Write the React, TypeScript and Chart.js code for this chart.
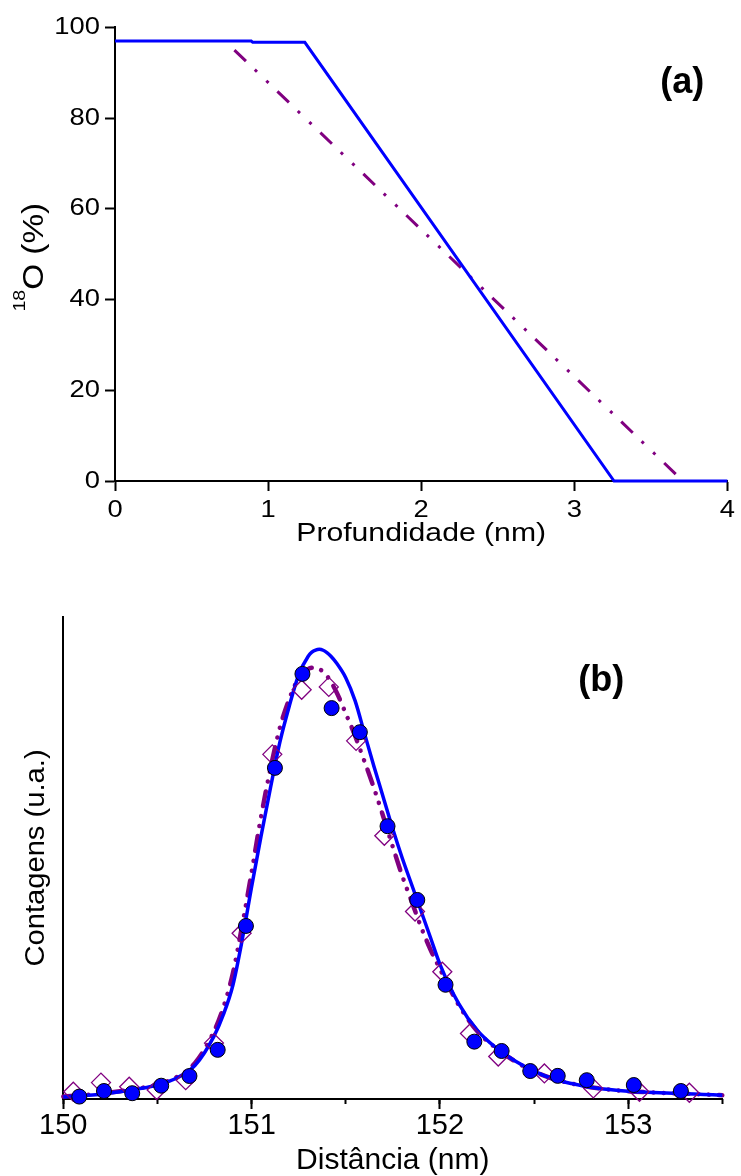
import React, { useEffect, useRef } from 'react';
import { Chart, registerables } from 'chart.js';

Chart.register(...registerables);

// ---------------- Panel (a): 18O depth profile ----------------
const depthTicks = [0, 1, 2, 3, 4];
const percentTicks = [0, 20, 40, 60, 80, 100];
const profileBlueX = [0, 0.89, 0.9, 1.24, 3.26, 4];
const profileBlueY = [97, 97, 96.7, 96.7, 0, 0];
const profilePurpleX = [0.78, 3.71];
const profilePurpleY = [95, 0];

// ---------------- Panel (b): counts vs distance ----------------
const distanceTicks = [150, 151, 152, 153];
const distanceMinorTicks = [150, 150.5, 151, 151.5, 152, 152.5, 153, 153.5];

const fitBlueX = [150.0, 150.1, 150.2, 150.3, 150.4, 150.5, 150.6, 150.7, 150.8, 150.85, 150.9, 150.95, 151.0, 151.05, 151.1, 151.15, 151.2, 151.25, 151.3, 151.32, 151.34, 151.36, 151.38, 151.4, 151.42, 151.45, 151.5, 151.55, 151.6, 151.65, 151.7, 151.75, 151.8, 151.85, 151.9, 151.95, 152.0, 152.1, 152.2, 152.3, 152.4, 152.5, 152.6, 152.7, 152.8, 152.9, 153.0, 153.1, 153.2, 153.3, 153.4, 153.5];
const fitBlueY = [0.4, 0.7, 1.0, 1.5, 2.1, 2.9, 4.3, 7.0, 13.0, 17.5, 23.5, 33, 44, 54.5, 64.5, 74, 81.5, 88, 91.8, 92.7, 93.15, 93.3, 93.1, 92.6, 91.9, 90.5, 87.4, 82.6, 75.8, 69, 62.5, 56, 50, 44.5, 39, 33.5, 28, 19.8, 14.2, 10.6, 7.9, 5.8, 4.2, 3.2, 2.45, 1.95, 1.6, 1.4, 1.25, 1.1, 0.95, 0.8];

const fitPurpleX = [150.0, 150.1, 150.2, 150.3, 150.4, 150.5, 150.6, 150.7, 150.8, 150.85, 150.9, 150.95, 151.0, 151.05, 151.1, 151.15, 151.2, 151.25, 151.3, 151.33, 151.36, 151.4, 151.45, 151.5, 151.55, 151.6, 151.65, 151.7, 151.75, 151.8, 151.85, 151.9, 151.95, 152.0, 152.1, 152.2, 152.3, 152.4, 152.5, 152.6, 152.7, 152.8, 152.9, 153.0, 153.1, 153.2, 153.3, 153.4, 153.5];
const fitPurpleY = [0.5, 0.8, 1.1, 1.6, 2.2, 3.0, 4.5, 7.5, 14, 19, 26, 36, 47, 58.5, 68.5, 77, 83, 87.3, 89.2, 89.5, 89.2, 87.8, 84.5, 80, 75.3, 70, 64.5, 58.5, 52.3, 46.3, 41, 35.7, 31, 27, 19.5, 14, 10.5, 7.8, 5.7, 4.2, 3.2, 2.45, 1.95, 1.6, 1.4, 1.25, 1.1, 0.95, 0.8];

const circlesX = [150.085, 150.216, 150.366, 150.52, 150.67, 150.82, 150.97, 151.124, 151.27, 151.425, 151.575, 151.722, 151.88, 152.03, 152.183, 152.328, 152.48, 152.626, 152.78, 153.03, 153.28];
const circlesY = [0.5, 1.66, 1.2, 2.76, 4.77, 10.2, 35.9, 68.7, 88.2, 81.1, 76.1, 56.6, 41.3, 23.7, 11.9, 9.96, 5.8, 4.8, 3.9, 2.9, 1.66];

const diamondsX = [150.053, 150.2, 150.35, 150.496, 150.65, 150.8, 150.947, 151.11, 151.266, 151.41, 151.555, 151.705, 151.868, 152.013, 152.16, 152.31, 152.555, 152.815, 153.06, 153.325];
const diamondsY = [1.5, 3.4, 2.55, 1.87, 3.9, 11.6, 34.4, 71.5, 84.9, 85.5, 74.3, 54.6, 38.9, 26.4, 13.6, 8.8, 5.3, 2.2, 1.5, 1.3];

const FONT = "'Liberation Sans', Arial, Helvetica, sans-serif";
const BLUE = '#0000FF';
const PURPLE = '#800080';

const pts = (xs: number[], ys: number[]) => xs.map((x, i) => ({ x, y: ys[i] }));

// Horizontally widen glyphs (the reference's lettering is wider than Arial)
function stretchPlugin(factorFor: (size: number) => number, after?: (chart: any) => void) {
  return {
    id: 'stretchText',
    beforeDraw(chart: any) {
      const ctx = chart.ctx as any;
      if (ctx.__origFill) return;
      const orig = CanvasRenderingContext2D.prototype.fillText;
      ctx.__origFill = orig;
      ctx.fillText = function (text: string, x: number, y: number, maxWidth?: number) {
        const m = /(\d+(?:\.\d+)?)px/.exec(this.font);
        const sx = m ? factorFor(parseFloat(m[1])) : 1;
        this.save();
        this.translate(x, y);
        this.scale(sx, 1);
        if (maxWidth === undefined) orig.call(this, text, 0, 0);
        else orig.call(this, text, 0, 0, maxWidth);
        this.restore();
      };
    },
    afterDraw(chart: any) {
      const ctx = chart.ctx as any;
      if (ctx.__origFill) {
        delete ctx.fillText;
        delete ctx.__origFill;
      }
      if (after) after(chart);
    },
  };
}

function drawPanelLabel(chart: any, text: string, dx: number, dy: number) {
  const ctx = chart.ctx;
  const { right, top } = chart.chartArea;
  ctx.save();
  ctx.font = `bold 36px ${FONT}`;
  ctx.fillStyle = '#000';
  ctx.textAlign = 'center';
  ctx.textBaseline = 'middle';
  ctx.fillText(text, right - dx, top + dy);
  ctx.restore();
}

function drawOxygenTitle(chart: any) {
  const ctx = chart.ctx;
  const { top, bottom } = chart.chartArea;
  const sx = 1.15;
  const small = `17px ${FONT}`;
  const big = `29px ${FONT}`;
  ctx.save();
  ctx.font = small;
  const w1 = ctx.measureText('18').width;
  ctx.font = big;
  const w2 = ctx.measureText('O (%)').width;
  const total = (w1 + w2) * sx;
  const cy = (top + bottom) / 2 + 3;
  ctx.translate(43, cy + total / 2);
  ctx.rotate(-Math.PI / 2);
  ctx.scale(sx, 1);
  ctx.fillStyle = '#000';
  ctx.textAlign = 'left';
  ctx.textBaseline = 'alphabetic';
  ctx.font = small;
  ctx.fillText('18', 0, -18);
  ctx.font = big;
  ctx.fillText('O (%)', w1, 0);
  ctx.restore();
}

const axisGrid = (tickLength: number) => ({
  drawOnChartArea: false,
  drawTicks: true,
  tickLength,
  tickWidth: 2,
  tickColor: '#000',
});
const axisBorder = { display: true, color: '#000', width: 2 };

export default function App() {
  const topRef = useRef<HTMLCanvasElement>(null);
  const botRef = useRef<HTMLCanvasElement>(null);

  useEffect(() => {
    const topChart = new Chart(topRef.current as HTMLCanvasElement, {
      type: 'scatter',
      data: {
        datasets: [
          {
            data: pts(profileBlueX, profileBlueY),
            showLine: true,
            borderColor: BLUE,
            borderWidth: 3,
            pointRadius: 0,
            tension: 0,
            clip: false as any,
          },
          {
            data: pts(profilePurpleX, profilePurpleY),
            showLine: true,
            borderColor: PURPLE,
            borderWidth: 3,
            borderDash: [16, 12.3, 3, 13, 3, 12.3],
            pointRadius: 0,
            tension: 0,
            clip: false as any,
          },
        ],
      },
      options: {
        responsive: false,
        animation: false,
        devicePixelRatio: 1,
        layout: { padding: { left: 0, top: 27.4, right: 8, bottom: 0 } },
        plugins: { legend: { display: false }, tooltip: { enabled: false } },
        scales: {
          x: {
            type: 'linear',
            min: 0,
            max: 4,
            afterBuildTicks: (s: any) => { s.ticks = depthTicks.map((value) => ({ value })); },
            afterFit: (s: any) => { s.height = 79; },
            grid: axisGrid(10),
            border: axisBorder,
            ticks: { color: '#000', font: { family: FONT, size: 24, lineHeight: 1 }, padding: 7, maxRotation: 0, autoSkip: false },
            title: { display: true, text: 'Profundidade (nm)', color: '#000', font: { family: FONT, size: 26, lineHeight: 1 }, padding: { top: 0, bottom: 13 } },
          },
          y: {
            type: 'linear',
            min: 0,
            max: 100,
            afterBuildTicks: (s: any) => { s.ticks = percentTicks.map((value) => ({ value })); },
            afterFit: (s: any) => { s.width = 115; },
            grid: axisGrid(10),
            border: axisBorder,
            ticks: { color: '#000', font: { family: FONT, size: 24, lineHeight: 1 }, padding: 5, autoSkip: false },
            title: { display: false },
          },
        },
      } as any,
      plugins: [
        stretchPlugin((size) => (size <= 24 ? 1.14 : 1.16), (chart) => {
          drawPanelLabel(chart, '(a)', 45, 56);
          drawOxygenTitle(chart);
        }),
      ],
    });

    const botChart = new Chart(botRef.current as HTMLCanvasElement, {
      type: 'scatter',
      data: {
        datasets: [
          {
            data: pts(circlesX, circlesY),
            pointStyle: 'circle',
            pointRadius: 7.5,
            pointBackgroundColor: BLUE,
            pointBorderColor: '#000',
            pointBorderWidth: 1,
            showLine: false,
            clip: false as any,
          },
          {
            data: pts(diamondsX, diamondsY),
            pointStyle: 'rectRot',
            pointRadius: 9.5,
            pointBackgroundColor: 'rgba(0,0,0,0)',
            pointBorderColor: PURPLE,
            pointBorderWidth: 1.3,
            showLine: false,
            clip: false as any,
          },
          {
            data: pts(fitBlueX, fitBlueY),
            showLine: true,
            borderColor: BLUE,
            borderWidth: 3.5,
            pointRadius: 0,
            cubicInterpolationMode: 'monotone',
            clip: false as any,
          },
          {
            data: pts(fitPurpleX, fitPurpleY),
            showLine: true,
            borderColor: PURPLE,
            borderWidth: 4.5,
            borderCapStyle: 'round',
            borderDash: [15, 10, 0.1, 10, 0.1, 10],
            pointRadius: 0,
            cubicInterpolationMode: 'monotone',
            clip: false as any,
          },
        ],
      },
      options: {
        responsive: false,
        animation: false,
        devicePixelRatio: 1,
        layout: { padding: { left: 0, top: 57, right: 18.7, bottom: 0 } },
        plugins: { legend: { display: false }, tooltip: { enabled: false } },
        scales: {
          x: {
            type: 'linear',
            min: 150,
            max: 153.5,
            afterBuildTicks: (s: any) => { s.ticks = distanceTicks.map((value) => ({ value })); },
            afterFit: (s: any) => { s.height = 77; },
            grid: axisGrid(10),
            border: axisBorder,
            ticks: { color: '#000', font: { family: FONT, size: 29, lineHeight: 1 }, padding: 2, maxRotation: 0, autoSkip: false },
            title: { display: true, text: 'Distância (nm)', color: '#000', font: { family: FONT, size: 30, lineHeight: 1 }, padding: { top: 0, bottom: 0.5 } },
          },
          x2: {
            type: 'linear',
            axis: 'x',
            position: { y: 0 },
            min: 150,
            max: 153.5,
            afterBuildTicks: (s: any) => { s.ticks = distanceMinorTicks.map((value) => ({ value })); },
            grid: axisGrid(5),
            border: { display: false },
            ticks: { display: false },
          },
          y: {
            type: 'linear',
            min: 0,
            max: 100,
            afterFit: (s: any) => { s.width = 63.3; },
            grid: { drawOnChartArea: false, drawTicks: false },
            border: axisBorder,
            ticks: { display: false },
            title: { display: true, text: 'Contagens (u.a.)', color: '#000', font: { family: FONT, size: 27, lineHeight: 1 }, padding: { top: 23, bottom: 0 } },
          },
        },
      } as any,
      plugins: [
        stretchPlugin((size) => (size === 27 ? 1.08 : 1.0), (chart) => {
          drawPanelLabel(chart, '(b)', 121, 64);
        }),
      ],
    });

    return () => {
      topChart.destroy();
      botChart.destroy();
    };
  }, []);

  return (
    <div style={{ position: 'absolute', left: 0, top: 0, width: 741, height: 1176, background: '#fff' }}>
      <canvas ref={topRef} width={741} height={560} style={{ position: 'absolute', left: 0, top: 0 }} />
      <canvas ref={botRef} width={741} height={616} style={{ position: 'absolute', left: 0, top: 560 }} />
    </div>
  );
}
